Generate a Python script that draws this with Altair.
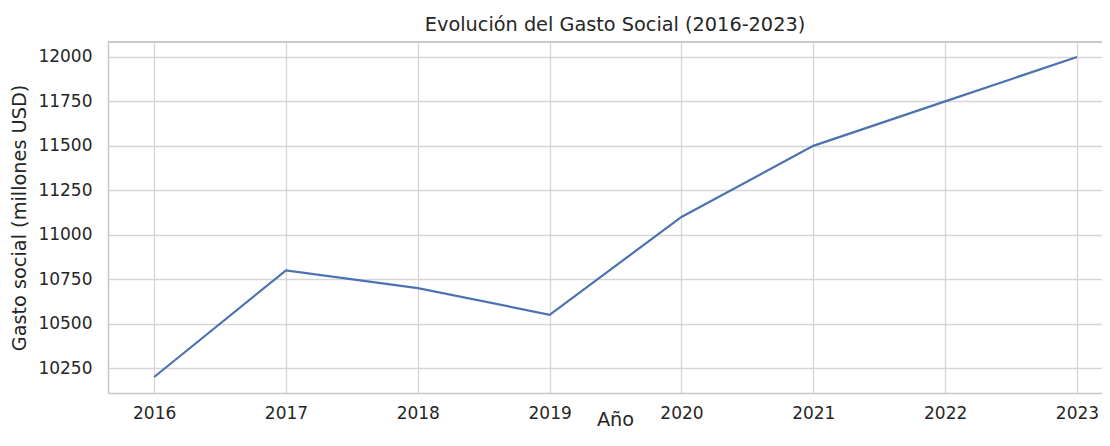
import altair as alt
import pandas as pd

years = [2016, 2017, 2018, 2019, 2020, 2021, 2022, 2023]
gasto = [10200, 10800, 10700, 10550, 11100, 11500, 11750, 12000]
y_ticks = [10250, 10500, 10750, 11000, 11250, 11500, 11750, 12000]

df = pd.DataFrame({"Año": years, "Gasto": gasto})

W, H = 994, 351
FONT = "DejaVu Sans"
TXT = "#262626"
GRID = "#d6d6d6"
SPINE = "#c8c8c8"

line = alt.Chart(df).mark_line(color="#4c72b0", strokeWidth=2.2).encode(
    x=alt.X(
        "Año:Q",
        scale=alt.Scale(domain=[2015.65, 2023.19], nice=False, zero=False),
        axis=alt.Axis(
            values=years, format="d", title="Año",
            grid=True, gridColor=GRID, gridWidth=1.3,
            ticks=False, labelPadding=12, labelFontSize=17, labelColor=TXT,
            labelFont=FONT, domainColor=SPINE, domainWidth=1.5,
            titleFont=FONT, titleFontSize=19.3, titleFontWeight="normal", titleColor=TXT,
            titleX=507, titleY=17, titleBaseline="top", labelFlush=False,
        ),
    ),
    y=alt.Y(
        "Gasto:Q",
        scale=alt.Scale(domain=[10110, 12084], nice=False, zero=False),
        axis=alt.Axis(
            values=y_ticks, format="d", title="Gasto social (millones USD)",
            grid=True, gridColor=GRID, gridWidth=1.3,
            ticks=False, labelPadding=16, labelFontSize=17, labelColor=TXT,
            labelFont=FONT, domainColor=SPINE, domainWidth=1.5,
            titleFont=FONT, titleFontSize=19.3, titleFontWeight="normal", titleColor=TXT,
            titleX=-89, titleY=H / 2, titleBaseline="middle", titleAngle=-90,
            labelFlush=False,
        ),
    ),
)

top_spine = alt.Chart(df).mark_rule(color=SPINE, strokeWidth=1.5).encode(
    x=alt.value(0), x2=alt.value(W), y=alt.value(0)
)

chart = (
    alt.layer(line, top_spine)
    .properties(
        width=W,
        height=H,
        autosize=alt.AutoSizeParams(type="none"),
        padding={"left": 100, "top": 34, "right": 0, "bottom": 38},
        title=alt.TitleParams(
            "Evolución del Gasto Social (2016-2023)",
            font=FONT, fontSize=19.3, fontWeight="normal", color=TXT,
            anchor="middle", baseline="alphabetic", offset=-9, dx=10,
        ),
    )
    .configure_view(stroke=None)
    .configure(background="white")
)

chart.save("out.html", embed_options={"renderer": "svg", "actions": False})
